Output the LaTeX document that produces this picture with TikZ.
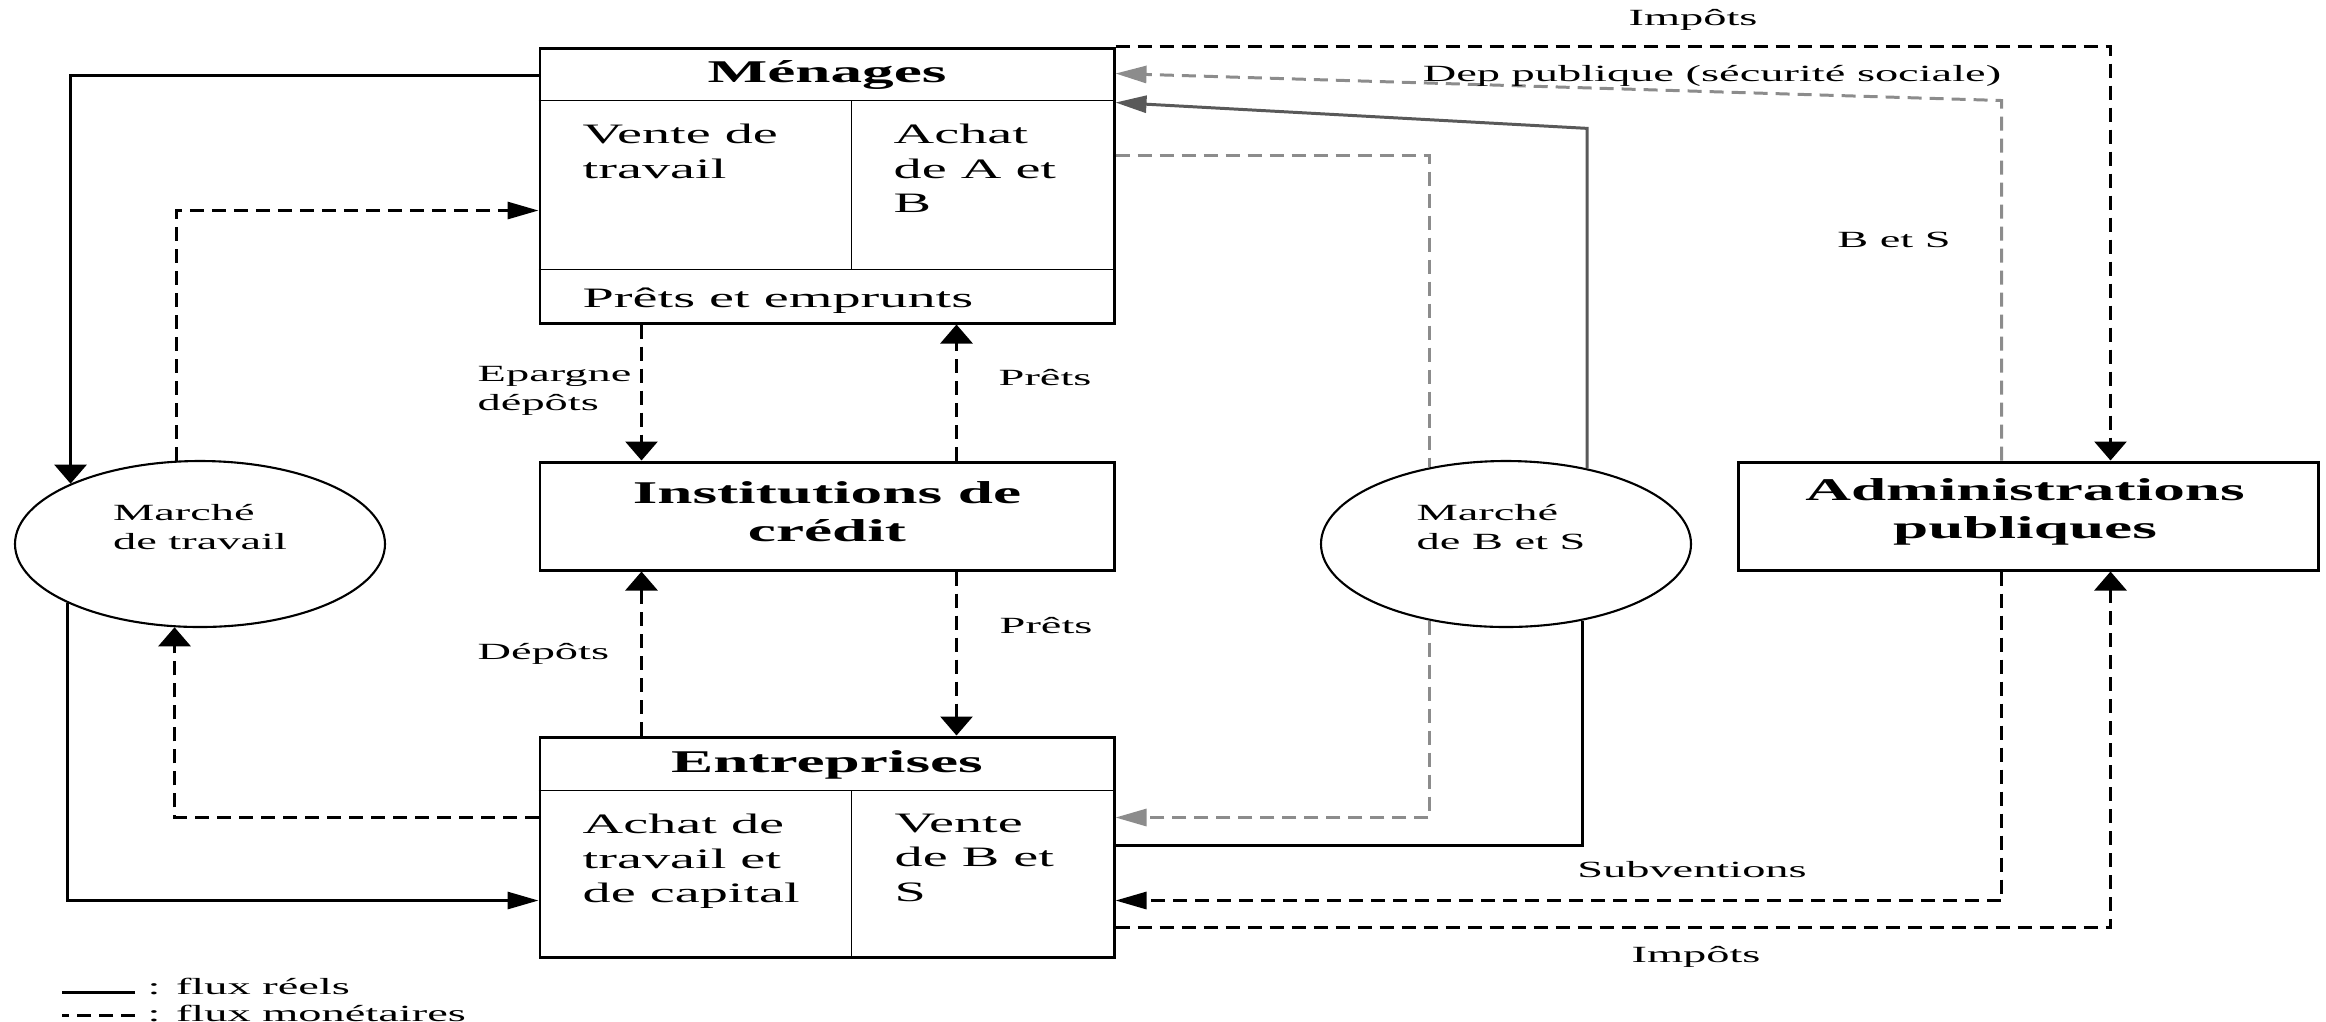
\documentclass[tikz,border=0pt]{standalone}
\usepackage{fontspec}
\setmainfont{Liberation Serif}[FakeStretch=2.0]
\usetikzlibrary{arrows.meta,calc,shapes.geometric}

\begin{document}
\begin{tikzpicture}[
  box/.style={draw, line width=0.85pt, inner sep=0pt},
  title/.style={font=\fontsize{9}{10.9}\selectfont\bfseries, align=center, inner sep=0pt},
  txt/.style={font=\fontsize{8}{9.9}\selectfont, align=left, inner sep=0pt},
  lab/.style={font=\fontsize{6.6}{8.4}\selectfont, align=left, inner sep=0pt},
  mkt/.style={draw, ellipse, line width=0.6pt, minimum width=3.7cm, minimum height=1.66cm, inner sep=0pt},
  real/.style={line width=0.85pt},
  money/.style={line width=0.85pt, dash pattern=on 0.14cm off 0.08cm},
  pale/.style={draw=black!45},
  dark/.style={draw=black!65},
  ha/.style={-{Triangle[length=0.31cm,width=0.17cm]}},
  va/.style={-{Triangle[length=0.19cm,width=0.32cm]}},
]
\useasboundingbox (0,0) rectangle (23.26,-10.21);

% les agents
\node[box, minimum width=5.74cm, minimum height=2.75cm] (men) at (8.27,-1.855) {};
\draw ($(men.north west)+(0,-0.54)$) -- ($(men.north east)+(0,-0.54)$);
\draw ($(men.south west)+(0,0.55)$) -- ($(men.south east)+(0,0.55)$);
\draw ($(men.north west)+(3.13,-0.54)$) -- ($(men.south west)+(3.13,0.55)$);
\node[title] (mt) at (8.27,-0.75) {Ménages};
\node[txt, anchor=north west] (mvente) at (5.82,-1.23) {Vente de\\travail};
\node[txt, anchor=north west] (machat) at (8.93,-1.23) {Achat\\de A et\\B};
\node[txt, anchor=base west] (mprets) at (5.82,-3.07) {Prêts et emprunts};

\node[box, minimum width=5.74cm, minimum height=1.08cm] (inst) at (8.27,-5.16) {};
\node[title] (it) at (8.27,-5.12) {Institutions de\\crédit};

\node[box, minimum width=5.74cm, minimum height=2.20cm] (ent) at (8.27,-8.47) {};
\draw ($(ent.north west)+(0,-0.55)$) -- ($(ent.north east)+(0,-0.55)$);
\draw ($(ent.north west)+(3.13,-0.55)$) -- ($(ent.south west)+(3.13,0)$);
\node[title] (et) at (8.27,-7.645) {Entreprises};
\node[txt, anchor=north west] (eachat) at (5.82,-8.13) {Achat de\\travail et\\de capital};
\node[txt, anchor=north west] (evente) at (8.94,-8.13) {Vente\\de B et\\S};

\node[box, minimum width=5.80cm, minimum height=1.08cm] (adm) at (20.28,-5.16) {};
\node[title] (at) at (20.25,-5.12) {Administrations\\publiques};

% les marches
\node[mkt] (lm) at (2.00,-5.44) {};
\node[lab] (lmt) at (2.00,-5.27) {Marché\\de travail};
\node[mkt] (rm) at (15.06,-5.44) {};
\node[lab] (rmt) at (15.01,-5.27) {Marché\\de B et S};

% flux a gauche
\draw[real, va] (men.west |- mt) -| (lm.155.6);
\draw[real, ha] (lm.204.4) |- ($(ent.north west)+(0,-1.65)$);
\draw[money, ha] (lm.106.9) |- ($(men.north west)+(0,-1.64)$);
\draw[money, va] ($(ent.north west)+(0,-0.82)$) -| (lm.253.1);

% credit
\draw[money, va] ($(men.south west)+(1.03,0)$) -- ($(inst.north west)+(1.03,0)$);
\draw[money, va] ($(inst.north west)+(4.18,0)$) -- ($(men.south west)+(4.18,0)$);
\draw[money, va] ($(ent.north west)+(1.03,0)$) -- ($(inst.south west)+(1.03,0)$);
\draw[money, va] ($(inst.south west)+(4.18,0)$) -- ($(ent.north west)+(4.18,0)$);
\node[lab, anchor=west] (lep) at (4.77,-3.91) {Epargne\\dépôts};
\node[lab, anchor=west] (lp1) at (9.98,-3.78) {Prêts};
\node[lab, anchor=west] (ldep) at (4.77,-6.54) {Dépôts};
\node[lab, anchor=west] (lp2) at (9.99,-6.26) {Prêts};

% flux a droite
\draw[money, va] (men.north east) -| ($(adm.north west)+(3.74,0)$);
\draw[money, pale, ha] ($(adm.north west)+(2.65,0)$) -- ++(0,3.60) -- ($(men.north east)+(0,-0.27)$);
\draw[real, dark, ha] (rm.43.5) -- ++(0,3.40) -- ($(men.north east)+(0,-0.56)$);
\draw[money, pale] ($(men.north east)+(0,-1.09)$) -| (rm.135);
\draw[money, pale, ha] (rm.225) |- ($(ent.north east)+(0,-0.82)$);
\draw[real] (rm.315) |- ($(ent.north east)+(0,-1.10)$);
\draw[money, ha] ($(adm.south west)+(2.65,0)$) |- ($(ent.north east)+(0,-1.65)$);
\draw[money, va] ($(ent.north east)+(0,-1.92)$) -| ($(adm.south west)+(3.74,0)$);
\node[lab] (limp1) at (16.93,-0.20) {Impôts};
\node[lab] (ldp) at (17.12,-0.76) {Dep publique (sécurité sociale)};
\node[lab] (lbs) at (18.94,-2.40) {B et S};
\node[lab] (lsub) at (16.92,-8.70) {Subventions};
\node[lab] (limp2) at (16.96,-9.57) {Impôts};

% legende
\node[lab, anchor=west] (lgr) at (1.47,-9.86) {: flux réels};
\node[lab, anchor=west] (lgm) at (1.47,-10.13) {: flux monétaires};
\draw[real] ($(lgr.west)+(-0.12,-0.06)$) -- ++(-0.73,0);
\draw[money] ($(lgm.west)+(-0.12,-0.02)$) -- ++(-0.73,0);
\end{tikzpicture}
\end{document}
